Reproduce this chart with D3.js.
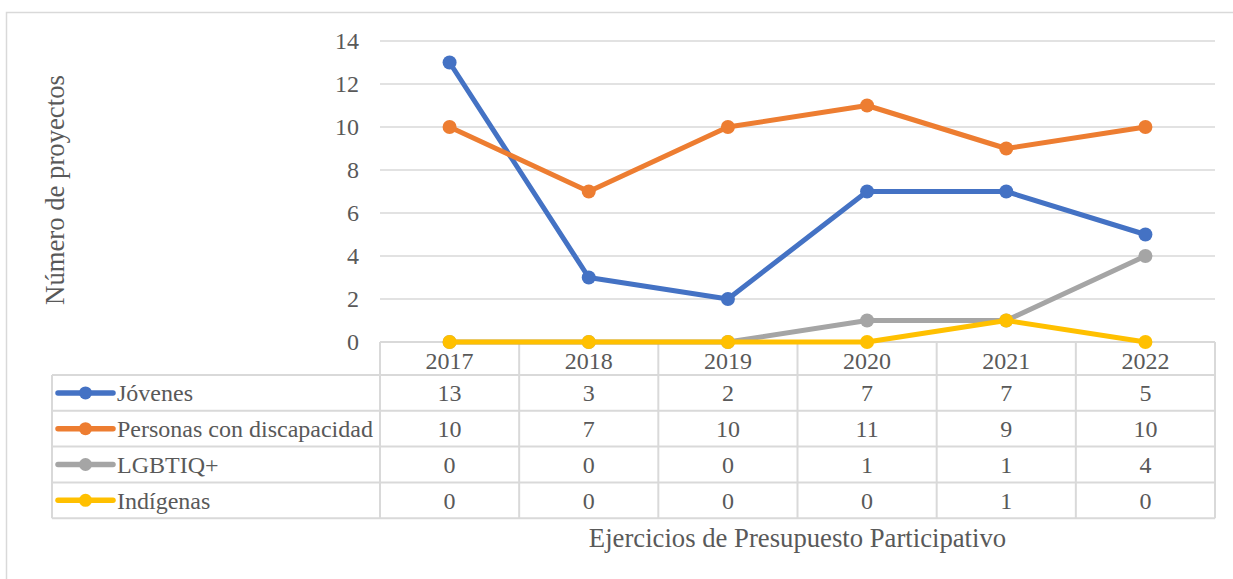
<!DOCTYPE html>
<html>
<head>
<meta charset="utf-8">
<script src="https://cdnjs.cloudflare.com/ajax/libs/d3/7.8.5/d3.min.js"></script>
<style>
  body { margin: 0; background: #fff; }
  svg text { font-family: "Liberation Serif", "Times New Roman", serif; fill: #595959; }
</style>
</head>
<body>
<div id="chart"></div>
<script>
var years = ["2017", "2018", "2019", "2020", "2021", "2022"];
var seriesNames = ["Jóvenes", "Personas con discapacidad", "LGBTIQ+", "Indígenas"];
var seriesColors = ["#4472C4", "#ED7D31", "#A5A5A5", "#FFC000"];
var jovenes = [13, 3, 2, 7, 7, 5];
var discapacidad = [10, 7, 10, 11, 9, 10];
var lgbtiq = [0, 0, 0, 1, 1, 4];
var indigenas = [0, 0, 0, 0, 1, 0];
var yTicks = [0, 2, 4, 6, 8, 10, 12, 14];

var allSeries = [jovenes, discapacidad, lgbtiq, indigenas];

var width = 1233, height = 579;
var plotLeft = 380, plotRight = 1215, plotTop = 41, plotBottom = 342;
var tableLeft = 52, headerBottom = 375, rowH = 35.8;
var gridColor = "#D9D9D9";

var svg = d3.select("#chart").append("svg")
    .attr("width", width)
    .attr("height", height)
    .attr("font-family", "Liberation Serif, Times New Roman, serif");

// chart border
svg.append("rect")
    .attr("x", 6.5).attr("y", 12.5)
    .attr("width", 1300).attr("height", 700)
    .attr("fill", "none").attr("stroke", gridColor).attr("stroke-width", 1.5);

var x = d3.scaleBand().domain(years).range([plotLeft, plotRight]);
var y = d3.scaleLinear().domain([0, 14]).range([plotBottom, plotTop]);

// gridlines
svg.append("g").selectAll("line")
    .data(yTicks.filter(function(d){ return d > 0; }))
    .enter().append("line")
    .attr("x1", plotLeft).attr("x2", plotRight)
    .attr("y1", function(d){ return y(d); }).attr("y2", function(d){ return y(d); })
    .attr("stroke", gridColor).attr("stroke-width", 1.5);

// y tick labels
svg.append("g").selectAll("text")
    .data(yTicks)
    .enter().append("text")
    .attr("x", 359)
    .attr("y", function(d){ return y(d); })
    .attr("dy", "0.35em")
    .attr("text-anchor", "end")
    .style("font-size", "24px")
    .text(function(d){ return d; });

// table lines
var tableBottom = headerBottom + rowH * seriesNames.length;
var tg = svg.append("g").attr("stroke", gridColor).attr("stroke-width", 2);
tg.append("line").attr("x1", plotLeft).attr("x2", plotRight).attr("y1", plotBottom).attr("y2", plotBottom);
seriesNames.concat([""]).forEach(function(s, i){
  var yy = headerBottom + rowH * i;
  tg.append("line").attr("x1", tableLeft).attr("x2", plotRight).attr("y1", yy).attr("y2", yy);
});
tg.append("line").attr("x1", tableLeft).attr("x2", tableLeft).attr("y1", headerBottom).attr("y2", tableBottom);
years.forEach(function(yr){
  var xx = x(yr);
  tg.append("line").attr("x1", xx).attr("x2", xx).attr("y1", plotBottom).attr("y2", tableBottom);
});
tg.append("line").attr("x1", plotRight).attr("x2", plotRight).attr("y1", plotBottom).attr("y2", tableBottom);

// header years
svg.append("g").selectAll("text")
    .data(years)
    .enter().append("text")
    .attr("x", function(d){ return x(d) + x.bandwidth() / 2; })
    .attr("y", (plotBottom + headerBottom) / 2 + 2)
    .attr("dy", "0.35em")
    .attr("text-anchor", "middle")
    .style("font-size", "24px")
    .text(function(d){ return d; });

// rows
seriesNames.forEach(function(name, i){
  var cy = headerBottom + rowH * i + rowH / 2;
  var row = svg.append("g");
  row.append("line")
      .attr("x1", 58).attr("x2", 113).attr("y1", cy).attr("y2", cy)
      .attr("stroke", seriesColors[i]).attr("stroke-width", 5.5).attr("stroke-linecap", "round");
  row.append("circle")
      .attr("cx", 85.5).attr("cy", cy).attr("r", 6.5)
      .attr("fill", seriesColors[i]);
  row.append("text")
      .attr("x", 117).attr("y", cy).attr("dy", "0.35em")
      .style("font-size", "24px")
      .text(name);
  row.selectAll("text.val")
      .data(allSeries[i])
      .enter().append("text")
      .attr("class", "val")
      .attr("x", function(d, j){ return x(years[j]) + x.bandwidth() / 2; })
      .attr("y", cy).attr("dy", "0.35em")
      .attr("text-anchor", "middle")
      .style("font-size", "24px")
      .text(function(d){ return d; });
});

// lines
var line = d3.line()
    .x(function(d, j){ return x(years[j]) + x.bandwidth() / 2; })
    .y(function(d){ return y(d); });

allSeries.forEach(function(vals, i){
  var g = svg.append("g");
  g.append("path")
      .datum(vals)
      .attr("d", line)
      .attr("fill", "none")
      .attr("stroke", seriesColors[i])
      .attr("stroke-width", 5)
      .attr("stroke-linejoin", "round")
      .attr("stroke-linecap", "round");
  g.selectAll("circle")
      .data(vals)
      .enter().append("circle")
      .attr("cx", function(d, j){ return x(years[j]) + x.bandwidth() / 2; })
      .attr("cy", function(d){ return y(d); })
      .attr("r", 7)
      .attr("fill", seriesColors[i]);
});

// axis titles
svg.append("text")
    .attr("transform", "translate(64,190) rotate(-90)")
    .attr("text-anchor", "middle")
    .style("font-size", "26.7px")
    .text("Número de proyectos");

svg.append("text")
    .attr("x", (plotLeft + plotRight) / 2)
    .attr("y", 547)
    .attr("text-anchor", "middle")
    .style("font-size", "26.7px")
    .text("Ejercicios de Presupuesto Participativo");
</script>
</body>
</html>
